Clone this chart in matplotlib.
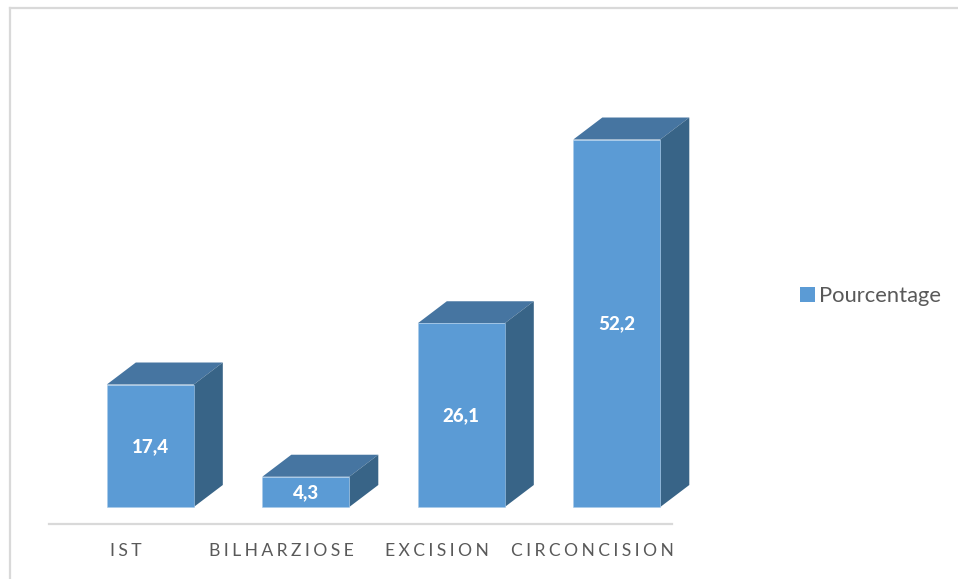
import matplotlib
matplotlib.use("Agg")
import matplotlib.pyplot as plt
from matplotlib.lines import Line2D
from matplotlib.patches import Patch, Polygon

plt.rcParams['font.family'] = ['Lato', 'DejaVu Sans']

# values
categories = ["IST", "BILHARZIOSE", "EXCISION", "CIRCONCISION"]
values = [17.4, 4.3, 26.1, 52.2]
value_labels = ["17,4", "4,3", "26,1", "52,2"]
series_name = "Pourcentage"

FRONT = "#5B9BD5"
TOP = "#4675A1"
SIDE = "#386487"
GRID = "#D9D9D9"
TEXT = "#595959"

W, H = 958, 579
fig = plt.figure(figsize=(W / 100, H / 100), dpi=100)

# axes box in pixels: axis line at y=524, left end 49, right end 672
left, right, top, bottom = 49, 672, 8, 524
ax = fig.add_axes([left / W, 1 - bottom / H, (right - left) / W, (bottom - top) / H])

px_per_unit = 7.04
px_per_cat = 155.5
zero_y = 507
first_center = 150.3
ax.set_xlim((left - first_center) / px_per_cat, (right - first_center) / px_per_cat)
ax.set_ylim((zero_y - bottom) / px_per_unit, (zero_y - top) / px_per_unit)

bar_w = 87 / px_per_cat
dx = 29 / px_per_cat
dy = 22 / px_per_unit

xs = list(range(len(values)))
ax.bar(xs, values, width=bar_w, color=FRONT, edgecolor="#A9CBEA", linewidth=0.4, zorder=3)

# fake 3D: top and side faces of every bar
for x, v in zip(xs, values):
    l = x - bar_w / 2
    r = x + bar_w / 2
    ax.add_patch(Polygon([(l, v), (r, v), (r + dx, v + dy), (l + dx, v + dy)],
                         closed=True, facecolor=TOP, edgecolor="none", zorder=2, clip_on=False))
    ax.add_patch(Polygon([(r, 0), (r + dx, dy), (r + dx, v + dy), (r, v)],
                         closed=True, facecolor=SIDE, edgecolor="none", zorder=2, clip_on=False))

for x, v, lab in zip(xs, values, value_labels):
    ax.text(x, v / 2 - 0.12, lab, color="white", fontsize=13.5, fontweight="black",
            ha="center", va="center", zorder=4)

# axis: line below the bars, labels shifted left like the 3D floor
for s in ["top", "left", "right"]:
    ax.spines[s].set_visible(False)
ax.spines["bottom"].set_color(GRID)
ax.spines["bottom"].set_linewidth(1.6)
ax.set_yticks([])
ax.set_xticks([x - 24.5 / px_per_cat for x in xs])
ax.set_xticklabels(["\u200a\u2009".join(c) for c in categories], color=TEXT, fontsize=12.6)
ax.tick_params(axis="x", length=0, pad=14)

# chart frame, only top and left are in the crop
fig.add_artist(Line2D([10 / W, 10 / W], [0, 1 - 8 / H], color=GRID, lw=1.6))
fig.add_artist(Line2D([10 / W, 1], [1 - 8 / H, 1 - 8 / H], color=GRID, lw=1.6))

handle = Patch(facecolor=FRONT, edgecolor="none", label=series_name)
fig.legend(handles=[handle], loc="center left", bbox_to_anchor=(800 / W, 1 - 296 / H),
           frameon=False, fontsize=15.8, labelcolor=TEXT, handlelength=0.7, handleheight=0.7,
           handletextpad=0.15, borderpad=0, borderaxespad=0)

fig.savefig("out.png", dpi=100)
